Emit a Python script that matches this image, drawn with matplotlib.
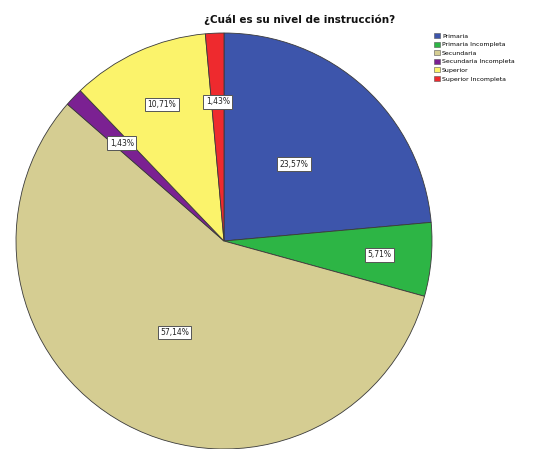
import numpy as np
import matplotlib
matplotlib.use("Agg")
import matplotlib.pyplot as plt

categories = ["Primaria", "Primaria Incompleta", "Secundaria",
              "Secundaria Incompleta", "Superior", "Superior Incompleta"]
values = [23.57, 5.71, 57.14, 1.43, 10.71, 1.43]
labels = ["23,57%", "5,71%", "57,14%", "1,43%", "10,71%", "1,43%"]
colors = ["#3d55ab", "#2db545", "#d5cd92", "#7b2192", "#fbf36b", "#ee2a2e"]
label_frac = [0.5, 0.75, 0.5, 0.68, 0.72, 0.67]

W, H = 546, 449
fig = plt.figure(figsize=(W / 100, H / 100), dpi=100)
ax = fig.add_axes([0, 0, 1, 1])

cx, cy, R = 224, H - 241, 208
wedges, _ = ax.pie(values, colors=colors, startangle=90, counterclock=False,
                   center=(cx, cy), radius=R, frame=True,
                   wedgeprops=dict(edgecolor="#3a3a3a", linewidth=0.6))
for w, lab, f in zip(wedges, labels, label_frac):
    ang = np.deg2rad((w.theta1 + w.theta2) / 2)
    x = cx + f * R * np.cos(ang)
    y = cy + f * R * np.sin(ang)
    ax.text(x, y, lab, ha="center", va="center", fontsize=5.5, color="#222222",
            bbox=dict(boxstyle="square,pad=0.3", fc="white", ec="#555555", lw=0.7))

ax.set_xlim(0, W)
ax.set_ylim(0, H)
ax.set_aspect("equal")
ax.axis("off")

fig.text(300 / W, 1 - 20 / H, "¿Cuál es su nivel de instrucción?", ha="center",
         va="center", fontsize=7.5, fontweight="bold", color="#111111")

from matplotlib.patches import Patch
handles = [Patch(facecolor=c, edgecolor="#555555", linewidth=0.4) for c in colors]
fig.legend(handles, categories, loc="upper left", bbox_to_anchor=(434 / W, 1 - 33 / H),
           frameon=False, fontsize=4.5, handlelength=1.0, handleheight=0.9,
           handletextpad=0.3, labelspacing=0.45, borderpad=0, borderaxespad=0)

fig.savefig("out.png", dpi=100)
